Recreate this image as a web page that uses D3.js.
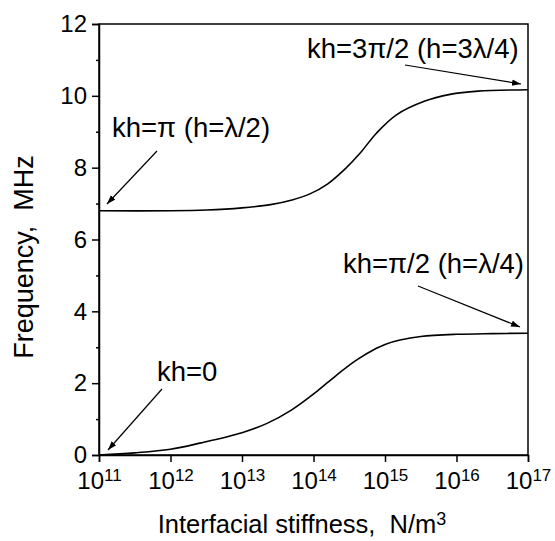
<!DOCTYPE html>
<html>
<head>
<meta charset="utf-8">
<script src="https://cdn.jsdelivr.net/npm/d3@7"></script>
<style>
  html, body { margin: 0; padding: 0; background: #fff; }
  svg { display: block; }
  text { font-family: "Liberation Sans", Arial, Helvetica, sans-serif; fill: #000; }
</style>
</head>
<body>
<svg id="chart" width="555" height="541"></svg>
<script>
// log10 of interfacial stiffness (N/m^3) at the sampled points
const logStiffnessLow = [11.0, 11.5, 12.0, 12.41, 13.0, 13.35, 13.69, 14.04, 14.32, 14.6, 14.88, 15.0, 15.21, 15.5, 16.0, 16.5, 17.0];
// resonance frequency of the kh = 0 -> pi/2 branch (MHz)
const freqLow = [0.0, 0.06, 0.16, 0.33, 0.62, 0.88, 1.25, 1.76, 2.22, 2.64, 2.97, 3.08, 3.20, 3.30, 3.36, 3.38, 3.39];

const logStiffnessHigh = [11.0, 12.0, 12.5, 13.0, 13.4, 13.7, 13.95, 14.2, 14.45, 14.65, 14.88, 15.16, 15.54, 15.91, 16.3, 17.0];
// resonance frequency of the kh = pi -> 3pi/2 branch (MHz)
const freqHigh = [6.80, 6.80, 6.82, 6.88, 6.97, 7.10, 7.27, 7.55, 7.98, 8.40, 8.96, 9.47, 9.84, 10.04, 10.13, 10.17];

const xTickExponents = [11, 12, 13, 14, 15, 16, 17];
const yTickValues = [0, 2, 4, 6, 8, 10, 12];
const yMinorValues = [1, 3, 5, 7, 9, 11];

const svg = d3.select("#chart");
const plotLeft = 99, plotRight = 528, plotTop = 24, plotBottom = 455;

const x = d3.scaleLog().domain([1e11, 1e17]).range([plotLeft, plotRight]);
const y = d3.scaleLinear().domain([0, 12]).range([plotBottom, plotTop]);

// frame
svg.append("rect")
  .attr("x", plotLeft).attr("y", plotTop)
  .attr("width", plotRight - plotLeft).attr("height", plotBottom - plotTop)
  .attr("fill", "none").attr("stroke", "#000").attr("stroke-width", 1.5);

// y axis
const yAxis = svg.append("g").attr("transform", `translate(${plotLeft},0)`)
  .call(d3.axisLeft(y).tickValues(yTickValues).tickSize(7).tickPadding(5).tickFormat(d3.format("d")));
yAxis.select(".domain").attr("stroke-width", 1.5);
yAxis.selectAll(".tick line").attr("stroke-width", 1.5);
yAxis.selectAll("text").attr("font-size", 24).attr("font-family", "Liberation Sans, Arial, sans-serif");
svg.append("g").attr("transform", `translate(${plotLeft},0)`)
  .call(d3.axisLeft(y).tickValues(yMinorValues).tickSize(3).tickFormat(""))
  .call(g => g.select(".domain").remove())
  .selectAll(".tick line").attr("stroke-width", 1.5);

// x axis with power-of-ten labels
const xAxis = svg.append("g").attr("transform", `translate(0,${plotBottom})`)
  .call(d3.axisBottom(x).tickValues(xTickExponents.map(e => Math.pow(10, e))).tickSize(7).tickFormat(""));
xAxis.select(".domain").attr("stroke-width", 1.5);
xAxis.selectAll(".tick line").attr("stroke-width", 1.5);
xAxis.selectAll(".tick").each(function(d, i) {
  const t = d3.select(this).append("text")
    .attr("y", 34).attr("text-anchor", "middle").attr("font-size", 24).attr("fill", "#000");
  t.append("tspan").text("10");
  t.append("tspan").attr("font-size", 17).attr("dy", -8).text(String(xTickExponents[i]));
});

// axis titles
const xt = svg.append("text").attr("x", 302).attr("y", 533).attr("text-anchor", "middle").attr("font-size", 25.5);
xt.append("tspan").text("Interfacial stiffness,\u00a0\u00a0N/m");
xt.append("tspan").attr("font-size", 18).attr("dy", -8).text("3");

svg.append("text")
  .attr("transform", "translate(33,257) rotate(-90)")
  .attr("text-anchor", "middle").attr("font-size", 27)
  .text("Frequency,\u00a0\u00a0MHz");

// curves
const line = d3.line().curve(d3.curveCatmullRom.alpha(0.5))
  .x(d => x(Math.pow(10, d[0]))).y(d => y(d[1]));
svg.append("path").datum(d3.zip(logStiffnessLow, freqLow))
  .attr("d", line).attr("fill", "none").attr("stroke", "#000").attr("stroke-width", 1.6);
svg.append("path").datum(d3.zip(logStiffnessHigh, freqHigh))
  .attr("d", line).attr("fill", "none").attr("stroke", "#000").attr("stroke-width", 1.6);

// arrowheads
svg.append("defs").append("marker")
  .attr("id", "arrow").attr("viewBox", "0 0 10 10").attr("refX", 10).attr("refY", 5)
  .attr("markerWidth", 9).attr("markerHeight", 9).attr("markerUnits", "userSpaceOnUse")
  .attr("orient", "auto")
  .append("path").attr("d", "M0,1.5 L10,5 L0,8.5 Z").attr("fill", "#000");

// annotations: label position and arrow endpoints in pixels of the plot
const notes = [
  { text: "kh=\u03c0 (h=\u03bb/2)", tx: 112, ty: 137, a: [157, 151, 107, 204] },
  { text: "kh=0", tx: 157, ty: 381, a: [162, 389, 108, 450] },
  { text: "kh=3\u03c0/2 (h=3\u03bb/4)", tx: 307, ty: 58, a: [405, 65, 521, 84] },
  { text: "kh=\u03c0/2 (h=\u03bb/4)", tx: 343, ty: 273, a: [418, 286, 520, 327] }
];
notes.forEach(n => {
  svg.append("text").attr("x", n.tx).attr("y", n.ty).attr("font-size", 27.5).text(n.text);
  svg.append("line")
    .attr("x1", n.a[0]).attr("y1", n.a[1]).attr("x2", n.a[2]).attr("y2", n.a[3])
    .attr("stroke", "#000").attr("stroke-width", 1.2).attr("marker-end", "url(#arrow)");
});
</script>
</body>
</html>
